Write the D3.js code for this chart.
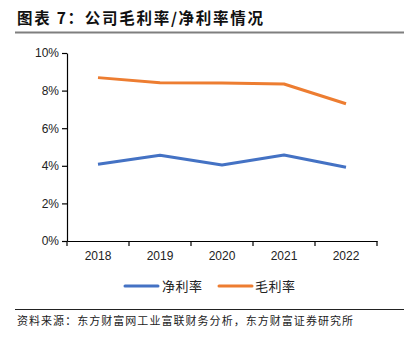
<!DOCTYPE html>
<html><head><meta charset="utf-8">
<script src="https://cdn.jsdelivr.net/npm/d3@7"></script>
<style>
html,body{margin:0;padding:0;background:#fff;}
svg{display:block;}
</style></head>
<body>
<svg id="c" width="417" height="351"></svg>
<script>
const categories = ["2018","2019","2020","2021","2022"];
const netMargin = [4.08, 4.56, 4.04, 4.57, 3.92];
const grossMargin = [8.69, 8.42, 8.40, 8.35, 7.30];
const yTicks = [0, 2, 4, 6, 8, 10];
const seriesNames = ["净利率", "毛利率"];
const colors = ["#4472C4", "#ED7D31"];

(function () {
const svg = d3.select("#c");
const cjk = "'Noto Sans CJK SC', sans-serif";
const latin = "'Liberation Sans', Arial, sans-serif";

// Title
svg.append("text").attr("x", 17).attr("y", 24)
  .attr("font-family", cjk).attr("font-size", 15.5).attr("font-weight", "bold")
  .attr("textLength", 246).attr("lengthAdjust", "spacing")
  .attr("fill", "#111").text("图表 7：公司毛利率/净利率情况");
svg.append("line").attr("x1", 15).attr("x2", 404).attr("y1", 32.5).attr("y2", 32.5)
  .attr("stroke", "#7f7f7f").attr("stroke-width", 2);

const pL = 67, pR = 377, pT = 53, pB = 241;
const x = d3.scaleBand().domain(categories).range([pL, pR]);
const y = d3.scaleLinear().domain([0, 10]).range([pB, pT]);

const yAxis = svg.append("g").attr("transform", `translate(${pL},0)`)
  .call(d3.axisLeft(y).tickValues(yTicks).tickFormat(d => d + "%").tickSize(5).tickSizeOuter(0));
const xAxis = svg.append("g").attr("transform", `translate(0,${pB})`)
  .call(d3.axisBottom(x).tickSize(0).tickSizeOuter(0));
// boundary ticks for x axis
xAxis.selectAll(".bt").data(d3.range(categories.length + 1)).enter().append("line")
  .attr("x1", i => pL + i * x.step()).attr("x2", i => pL + i * x.step())
  .attr("y1", 0).attr("y2", 5).attr("stroke", "#000");
[yAxis, xAxis].forEach(g => {
  g.selectAll("path,line").attr("stroke", "#000").attr("stroke-width", 1.2);
  g.selectAll("text").attr("font-family", latin).attr("font-size", 12).attr("fill", "#222");
});
yAxis.selectAll("text").attr("x", -8);
xAxis.selectAll("text").attr("dy", "1.35em");

const line = d3.line().x((d, i) => x(categories[i]) + x.bandwidth() / 2).y(d => y(d));
[netMargin, grossMargin].forEach((s, k) => {
  svg.append("path").datum(s).attr("d", line).attr("fill", "none")
    .attr("stroke", colors[k]).attr("stroke-width", 3).attr("stroke-linejoin", "round");
});

// Legend
const lg = [{x: 125, t: 162}, {x: 219, t: 255}];
seriesNames.forEach((n, k) => {
  svg.append("line").attr("x1", lg[k].x).attr("x2", lg[k].x + 33).attr("y1", 286).attr("y2", 286)
    .attr("stroke", colors[k]).attr("stroke-width", 3).attr("stroke-linecap", "round");
  svg.append("text").attr("x", lg[k].t).attr("y", 291).attr("font-family", cjk)
    .attr("font-size", 13).attr("fill", "#222").attr("textLength", 40).attr("lengthAdjust", "spacing").text(n);
});

// Source
svg.append("line").attr("x1", 15).attr("x2", 404).attr("y1", 309.5).attr("y2", 309.5)
  .attr("stroke", "#222").attr("stroke-width", 1.2);
svg.append("text").attr("x", 17).attr("y", 325).attr("font-family", cjk)
  .attr("font-size", 11).attr("fill", "#222")
  .attr("textLength", 336).attr("lengthAdjust", "spacing")
  .text("资料来源：东方财富网工业富联财务分析，东方财富证券研究所");
})();
</script>
</body></html>
